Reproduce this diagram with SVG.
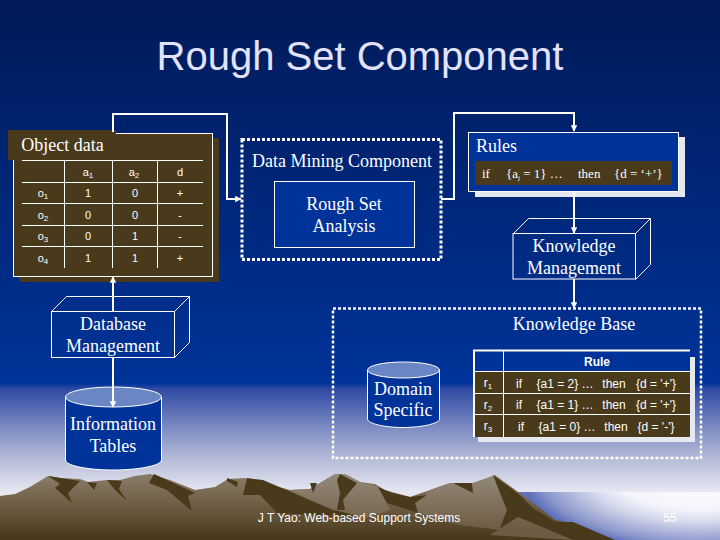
<svg xmlns="http://www.w3.org/2000/svg" width="720" height="540" viewBox="0 0 720 540">
<defs>
<linearGradient id="sky" x1="0" y1="0" x2="0" y2="1"><stop offset="0" stop-color="#001a58"/><stop offset="0.71" stop-color="#003399"/><stop offset="0.72" stop-color="#2f4aa3"/><stop offset="0.8" stop-color="#8592c6"/><stop offset="0.85" stop-color="#b5bbd8"/><stop offset="0.91" stop-color="#e6e7f1"/><stop offset="1" stop-color="#e6e7f1"/></linearGradient>
<radialGradient id="sea" gradientUnits="userSpaceOnUse" cx="0" cy="0" r="1" gradientTransform="translate(700 470) scale(180 80)"><stop offset="0" stop-color="#ffffff"/><stop offset="0.5" stop-color="#f4f5fb"/><stop offset="0.65" stop-color="#d6d9ec"/><stop offset="0.9" stop-color="#8c98cc"/><stop offset="1" stop-color="#5f70bb"/></radialGradient>
<linearGradient id="land" gradientUnits="userSpaceOnUse" x1="0" y1="474" x2="0" y2="540"><stop offset="0" stop-color="#8a7d68"/><stop offset="0.5" stop-color="#6d5c43"/><stop offset="0.95" stop-color="#4a3a1c"/></linearGradient>
<linearGradient id="hill" gradientUnits="userSpaceOnUse" x1="0" y1="474" x2="0" y2="530"><stop offset="0" stop-color="#94897a"/><stop offset="1" stop-color="#6d5c43"/></linearGradient>
<marker id="arr" viewBox="0 0 10 10" refX="9" refY="5" markerWidth="6.500" markerHeight="6.500" markerUnits="userSpaceOnUse" orient="auto"><path d="M0 0L10 5L0 10Z" fill="#fff"/></marker>
</defs>
<style>
.s{font-family:"Liberation Serif","Times New Roman",serif;fill:#fff;text-anchor:middle}
.h{font-family:"Liberation Sans",Arial,sans-serif;fill:#fff;text-anchor:middle}
.t18{font-size:18px}
.b{fill:#003399;stroke:#fff;stroke-width:1}
.br{fill:#4a3a1c}
.ln{stroke:#fff;stroke-width:1;fill:none}
.c{stroke:#fff;stroke-width:2;fill:none;marker-end:url(#arr)}
.dash{fill:none;stroke:#fff;stroke-width:3;stroke-dasharray:3 2}
.dk{fill:#4a3a1c}
.cell{font-size:11px}
.rule{font-size:12px}
</style>
<g id="background">
<rect width="720" height="540" fill="url(#sky)"/>
<rect x="510" y="492" width="210" height="48" fill="url(#sea)"/>
<path fill="url(#land)" d="M0 496L15 494L30 487L48 476L60 478L80 479L88 482L107 480L120 480L135 476L150 474L170 480L195 490L215 487L228 479L245 478L260 482L290 490L310 489L335 474L345 474L360 482L375 484L385 490L410 497L430 490L450 483L470 484L490 477L495 475L510 486L525 497L540 508L555 520L575 524L590 530L615 540L0 540Z"/>
<path fill="url(#hill)" d="M290 490L310 489L335 474L345 474L360 482L378 487L390 510L360 520L335 512L300 495ZM415 503L430 490L450 483L470 484L490 477L495 475L500 493L507 510L500 530L460 525L418 513ZM518 517L573 540L490 535Z"/>
<path class="dk" d="M48 476L80 481L68 493L72 503L55 488L60 484ZM87 482L97 483L94 490ZM107 480L122 481L119 489L127 501L115 490ZM154 474L195 493L188 496L192 511L167 490L149 483ZM227 478L238 482L237 487L227 481ZM247 478L263 480L333 510L343 512L360 517L277 513L260 495L243 495ZM310 483L317 483L313 493ZM340 474L357 483L343 500L345 510L337 510L340 493L337 480ZM378 487L392 493L410 497L427 495L415 503L418 513L387 503ZM453 483L472 483L473 493L463 488ZM493 475L520 495L533 508L555 522L573 522L615 540L575 540L518 517L500 528L507 510L500 493L495 480Z"/>
</g>
<text id="title" class="h" x="360" y="70" font-size="40" style="fill:#e2e2fa">Rough Set Component</text>
<g id="object-data">
<rect class="br" x="19" y="138" width="200" height="144"/>
<rect class="br" x="13.500" y="133.500" width="199" height="143" stroke="#fff"/>
<rect class="br" x="8" y="130" width="108" height="30"/>
<path class="ln" d="M22 160.500H203M22 182.500H203M22 203.500H203M22 225.500H203M22 246.500H203M64.500 160V268M112.500 160V268M157.500 160V268"/>
<text class="s" x="62.500" y="151" font-size="18">Object data</text>
<text class="h cell" x="88" y="176">a<tspan font-size="8" dy="2">1</tspan></text>
<text class="h cell" x="134" y="176">a<tspan font-size="8" dy="2">2</tspan></text>
<text class="h cell" x="180" y="176">d</text>
<text class="h cell" x="43" y="197">o<tspan font-size="8" dy="2">1</tspan></text>
<text class="h cell" x="43" y="219">o<tspan font-size="8" dy="2">2</tspan></text>
<text class="h cell" x="43" y="240">o<tspan font-size="8" dy="2">3</tspan></text>
<text class="h cell" x="43" y="262">o<tspan font-size="8" dy="2">4</tspan></text>
<text class="h cell" x="88" y="197">1</text><text class="h cell" x="135" y="197">0</text><text class="h cell" x="180" y="197">+</text>
<text class="h cell" x="88" y="219">0</text><text class="h cell" x="135" y="219">0</text><text class="h cell" x="180" y="219">-</text>
<text class="h cell" x="88" y="240">0</text><text class="h cell" x="135" y="240">1</text><text class="h cell" x="180" y="240">-</text>
<text class="h cell" x="88" y="262">1</text><text class="h cell" x="135" y="262">1</text><text class="h cell" x="180" y="262">+</text>
</g>
<g id="data-mining">
<rect class="dash" x="242" y="139.500" width="199" height="120"/>
<text class="s t18" x="342" y="167">Data Mining Component</text>
</g>
<g id="rough-set">
<rect class="b" x="274.500" y="181.500" width="140" height="66"/>
<text class="s t18" x="344" y="210">Rough Set</text>
<text class="s t18" x="344" y="232">Analysis</text>
</g>
<g id="rules">
<rect x="475" y="137" width="210" height="60" fill="#e6e8f0"/>
<rect class="b" x="468.500" y="132.500" width="210" height="59"/>
<rect class="br" x="475" y="161" width="197" height="24"/>
<text class="s t18" x="496.500" y="152">Rules</text>
<text class="s" x="482" y="178" font-size="13" style="text-anchor:start">if</text>
<text class="s" x="506" y="178" font-size="13" style="text-anchor:start">{a<tspan font-size="7" dy="2">j</tspan><tspan dy="-2"> = 1} …</tspan></text>
<text class="s" x="578" y="178" font-size="13" style="text-anchor:start">then</text>
<text class="s" x="614" y="178" font-size="13" style="text-anchor:start">{d = ‘+’}</text>
</g>
<g id="knowledge-management">
<path class="ln" d="M513.500 233.500L528.500 218.500H650.500V264.500L635.500 279.500M635.500 233.500L650.500 218.500"/>
<rect class="ln" x="513" y="233.500" width="122.500" height="45.500"/>
<text class="s t18" x="574" y="252">Knowledge</text>
<text class="s t18" x="574" y="274">Management</text>
</g>
<g id="knowledge-base">
<rect class="dash" x="333" y="308.500" width="368" height="149.500" style="stroke-width:2.500"/>
<text class="s t18" x="574" y="330">Knowledge Base</text>
</g>
<g id="rule-table">
<rect x="478" y="357" width="217" height="85" fill="#e6e8f0"/>
<rect x="473" y="350" width="217" height="21" fill="#003399"/>
<rect class="br" x="473" y="371" width="217" height="66"/>
<path d="M474 350V437M473 350.500H690" stroke="#fff" stroke-width="2" fill="none"/>
<path class="ln" d="M473 371.500H690M473 393.500H690M473 414.500H690M503.500 350V437"/>
<text class="h" x="597" y="366" font-size="12" font-weight="bold">Rule</text>
<g class="rule">
<text class="h" x="488" y="387">r<tspan font-size="8" dy="2">1</tspan></text>
<text class="h" x="488" y="409">r<tspan font-size="8" dy="2">2</tspan></text>
<text class="h" x="488" y="430">r<tspan font-size="8" dy="2">3</tspan></text>
<text class="h" x="519" y="388">if</text><text class="h" x="565" y="388">{a1 = 2} …</text><text class="h" x="614" y="388">then</text><text class="h" x="656" y="388">{d = '+'}</text>
<text class="h" x="519" y="409">if</text><text class="h" x="565" y="409">{a1 = 1} …</text><text class="h" x="614" y="409">then</text><text class="h" x="656" y="409">{d = '+'}</text>
<text class="h" x="521" y="431">if</text><text class="h" x="567" y="431">{a1 = 0} …</text><text class="h" x="616" y="431">then</text><text class="h" x="656" y="431">{d = '-'}</text>
</g>
</g>
<g id="domain-specific">
<path class="b" d="M367.500 370V419C367.500 423.500 384 427.500 403 427.500S439.500 423.500 439.500 419V370Z"/>
<ellipse cx="403.500" cy="370" rx="36" ry="8" fill="#6b86c4" stroke="#fff"/>
<text class="s t18" x="403" y="395">Domain</text>
<text class="s t18" x="403" y="416">Specific</text>
</g>
<g id="database-management">
<path class="ln" d="M51.500 311.500L66.500 296.500H189.500V342.500L174.500 357.500M174.500 311.500L189.500 296.500"/>
<rect class="ln" x="51.500" y="311.500" width="123" height="46"/>
<text class="s t18" x="113" y="330">Database</text>
<text class="s t18" x="113" y="352">Management</text>
</g>
<g id="information-tables">
<path class="b" d="M65.500 397V460C65.500 465.500 87 470 113 470S161.500 465.500 161.500 460V397Z"/>
<ellipse cx="113.500" cy="397" rx="48" ry="10" fill="#6b86c4" stroke="#fff"/>
<text class="s t18" x="113" y="430">Information</text>
<text class="s t18" x="113" y="452">Tables</text>
</g>
<g id="connectors">
<path class="c" d="M113 132V114H227V199H241"/>
<path class="c" d="M441 199H454V113H574V131"/>
<path class="c" d="M574 191V233"/>
<path class="c" d="M574 279V308"/>
<path class="c" d="M113 311V277"/>
<path class="c" d="M113 357V407"/>
</g>
<text id="footer" class="h" x="359" y="522" font-size="12">J T Yao: Web-based Support Systems</text>
<text id="page" class="h" x="670" y="522" font-size="12">55</text>
</svg>
